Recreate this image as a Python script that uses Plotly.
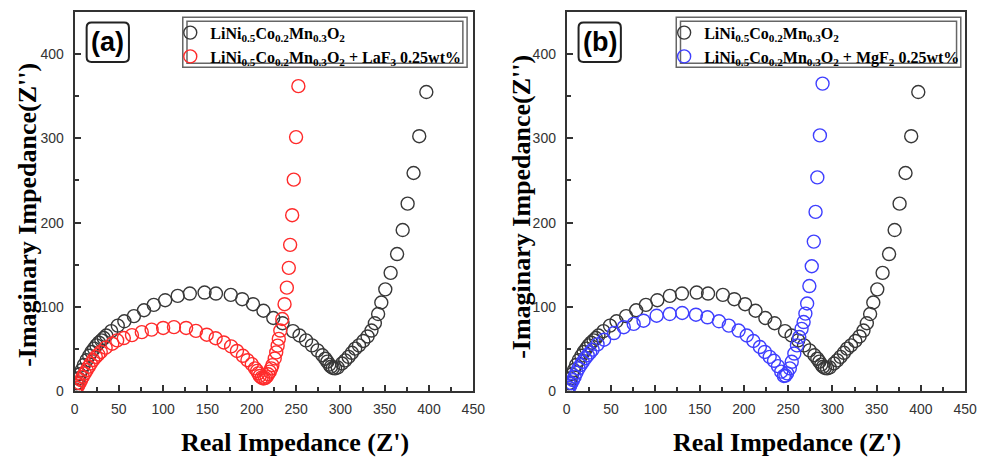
import plotly.graph_objects as go

# ---------------- data ----------------
pristine_x = [1, 2.6, 4.4, 6, 8.1, 10.5, 13.6, 16.5, 19.2, 22, 24.7, 27.5, 30.3, 33, 35.8, 41.4, 48.8,
              56.2, 67, 78.4, 89.4, 102.3, 116.4, 130.1, 146.7, 159.6, 176.3, 189.2, 201.4, 213.2,
              224.3, 234.7, 246.5, 253.9, 261.3, 268, 274.2, 279.7, 283, 285.3, 287.5, 289.5, 291.5,
              294, 297, 301.8, 305.5, 309.2, 313, 316.7, 321, 325.9, 330.7, 335.1, 338.9, 342.6,
              346.2, 350.7, 356.7, 364, 370.3, 375.9, 382.6, 389, 397]
pristine_y = [2, 9.4, 15.2, 20, 25, 31, 36.7, 42, 46.5, 50.5, 54.3, 57.5, 60.2, 63, 66, 71.2, 77.8,
              82.9, 89, 96, 102.4, 107.9, 113, 115.8, 117, 115.8, 114.2, 109.1, 103.2, 95.4,
              86.8, 80.6, 71.2, 66, 60.2, 54.3, 48.4, 42.6, 38.5, 35, 31.5, 29, 27.5,
              27, 28, 32.8, 36.5, 40.7, 45.5, 50.4, 54.3, 59.5, 64.9, 71.9, 80.6, 91.5,
              105.2, 120.8, 140.4, 162.7, 191.2, 222.5, 258.9, 302.6, 355]

laf3_x = [1, 2.5, 4, 5.6, 7.3, 9.2, 11.5, 13.7, 16, 18.4, 21, 24, 26.8, 29.6, 35.1, 42.6, 48.1,
          55.6, 64.8, 75.9, 87, 100, 112.2, 125.9, 137, 149.2, 159.2, 168.4, 176.7, 183.3, 190,
          195.1, 200, 203.7, 206, 207.4, 209, 211.1, 213, 215, 216.7, 218.5, 220.3, 222, 223.3,
          225.9, 227.6, 229.2, 230.5, 232.2, 234.4, 237, 239.6, 241.8, 243.3, 245.6, 247.4, 250,
          252.6]
laf3_y = [1.5, 4, 6.5, 9.4, 13, 17.2, 21, 25, 29, 32.8, 37, 40.7, 43.5, 46.5, 51.6, 56.3, 60.2,
          63, 66.5, 70, 73, 75, 76, 75, 71.5, 67, 62.8, 57.8, 53.1, 47.7, 41.9,
          36.7, 32, 27, 24, 21.1, 18, 16, 15, 15.5, 17.2, 20, 23.1, 27, 30.9,
          38.7, 46, 54, 62, 71.9, 85.6, 103.2, 122.8, 146.3, 173.6, 208.8, 251, 301.5,
          362]

mgf2_x = [1, 2.5, 3.8, 5.2, 7, 8.9, 11, 13.3, 15.7, 18.1, 21, 23.7, 26.5, 29.2, 34.8, 42.2, 53.3,
          64.4, 75.6, 86.7, 101.5, 116.3, 130.4, 145.9, 158.9, 171.9, 183, 194.1, 203.3, 210.8,
          218.1, 223.7, 229.2, 234.1, 238.5, 242.2, 245.2, 247, 248.9, 251.9, 254.1, 257, 260,
          262.6, 265.2, 267.5, 269.5, 271.5, 274, 276.7, 279, 281, 283, 285.9, 288.9]
mgf2_y = [1.5, 4, 6.5, 9.4, 13, 17.2, 22, 27, 31, 34.8, 39, 42.6, 46, 49.3, 55.5, 61, 68.9,
          75.9, 79.8, 83.6, 89.5, 91.5, 92.7, 90.7, 87.6, 82.9, 77.8, 71.9, 66, 59.5,
          52.4, 46.5, 40.7, 36, 29.7, 23.1, 18, 18.5, 21.1, 27, 34.8, 44.6, 54.3,
          64.2, 73.9, 82, 92, 104, 124.7, 148.2, 177.5, 212.7, 253.7, 303.5, 365]

name_pristine = "<b>LiNi<sub>0.5</sub>Co<sub>0.2</sub>Mn<sub>0.3</sub>O<sub>2</sub></b>"
name_laf3 = "<b>LiNi<sub>0.5</sub>Co<sub>0.2</sub>Mn<sub>0.3</sub>O<sub>2</sub> + LaF<sub>3</sub> 0.25wt%</b>"
name_mgf2 = "<b>LiNi<sub>0.5</sub>Co<sub>0.2</sub>Mn<sub>0.3</sub>O<sub>2</sub> + MgF<sub>2</sub> 0.25wt%</b>"
panel_labels = ["<b>(a)</b>", "<b>(b)</b>"]
x_title = "<b>Real Impedance (Z')</b>"
y_title = "<b>-Imaginary Impedance(Z'')</b>"

# ---------------- styling ----------------
W, H = 990, 463
BLACK = "#383838"
RED = "#ff2b2b"
BLUE = "#3f3fff"
AX = "#333333"

def px(xp):
    return xp / W

def py(yp):
    return 1 - yp / H

def mk(color):
    return dict(symbol="circle-open", size=13, color=color, line=dict(width=1.4, color=color))

fig = go.Figure()
fig.add_trace(go.Scatter(x=pristine_x, y=pristine_y, mode="markers", marker=mk(BLACK),
                         name=name_pristine, xaxis="x", yaxis="y", legend="legend"))
fig.add_trace(go.Scatter(x=laf3_x, y=laf3_y, mode="markers", marker=mk(RED),
                         name=name_laf3, xaxis="x", yaxis="y", legend="legend"))
fig.add_trace(go.Scatter(x=pristine_x, y=pristine_y, mode="markers", marker=mk(BLACK),
                         name=name_pristine, xaxis="x2", yaxis="y2", legend="legend2"))
fig.add_trace(go.Scatter(x=mgf2_x, y=mgf2_y, mode="markers", marker=mk(BLUE),
                         name=name_mgf2, xaxis="x2", yaxis="y2", legend="legend2"))

ydom = [py(398), py(12.2)]
tickfont = dict(family="Liberation Sans", size=14, color="#333")

def xax(dom, anchor):
    return dict(domain=dom, range=[0, 450], anchor=anchor, dtick=50, tick0=0,
                ticks="inside", ticklen=6, tickwidth=1.5, tickcolor=AX,
                minor=dict(dtick=25, ticks="inside", ticklen=4, tickwidth=1.5, tickcolor=AX),
                showline=True, mirror=True, linewidth=2, linecolor=AX,
                showgrid=False, zeroline=False, tickfont=tickfont, ticklabelstandoff=4)

def yax(anchor):
    return dict(domain=ydom, range=[0, 450], anchor=anchor, dtick=100, tick0=0,
                ticks="inside", ticklen=6, tickwidth=1.5, tickcolor=AX,
                minor=dict(dtick=50, ticks="inside", ticklen=4, tickwidth=1.5, tickcolor=AX),
                showline=True, mirror=True, linewidth=2, linecolor=AX,
                showgrid=False, zeroline=False, tickfont=tickfont, ticklabelstandoff=6)

def yover(over, anchor):
    return dict(overlaying=over, anchor=anchor, range=[0, 450], dtick=100, tick0=0,
                ticks="outside", ticklen=4, tickwidth=1.5, tickcolor=AX,
                showticklabels=False, showline=False, showgrid=False, zeroline=False)

legend_common = dict(xanchor="left", yanchor="top", bgcolor="rgba(0,0,0,0)", borderwidth=0,
                     font=dict(family="Liberation Serif", size=16, color="black"),
                     tracegroupgap=0, traceorder="normal")

fig.update_layout(
    width=W, height=H, margin=dict(l=0, r=0, t=0, b=0),
    paper_bgcolor="white", plot_bgcolor="white",
    xaxis=xax([px(71.7), px(477)], "y"),
    yaxis=yax("x"),
    xaxis2=xax([px(572), px(977)], "y2"),
    yaxis2=yax("x2"),
    yaxis3=yover("y", "x"),
    yaxis4=yover("y2", "x2"),
    legend=dict(x=px(169), y=py(16), **legend_common),
    legend2=dict(x=px(671), y=py(16), **legend_common),
    showlegend=True,
)

# legend double frames
for (x0, x1) in [(181.7, 470.7), (683.3, 972.5)]:
    fig.add_shape(type="rect", xref="paper", yref="paper", x0=px(x0), x1=px(x1),
                  y0=py(68.5), y1=py(17.5), line=dict(color="#666", width=1.5))
    fig.add_shape(type="rect", xref="paper", yref="paper", x0=px(x0 + 4.3), x1=px(x1 - 4.3),
                  y0=py(64.3), y1=py(21.7), line=dict(color="#666", width=1.5))

# rounded boxes around panel labels
def rounded_box(x0, y0, x1, y1, r=5):
    X0, X1 = px(x0), px(x1)
    Y0, Y1 = py(y0), py(y1)
    rx, ry = r / W, r / H
    return (f"M {X0+rx},{Y0} L {X1-rx},{Y0} Q {X1},{Y0} {X1},{Y0-ry} "
            f"L {X1},{Y1+ry} Q {X1},{Y1} {X1-rx},{Y1} L {X0+rx},{Y1} "
            f"Q {X0},{Y1} {X0},{Y1+ry} L {X0},{Y0-ry} Q {X0},{Y0} {X0+rx},{Y0} Z")

for lab, (bx0, bx1) in zip(panel_labels, [(84, 127), (584, 627)]):
    fig.add_shape(type="path", xref="paper", yref="paper", path=rounded_box(bx0, 23, bx1, 63),
                  line=dict(color="#222", width=2))
    fig.add_annotation(text=lab, xref="paper", yref="paper", x=px((bx0 + bx1) / 2), y=py(43),
                       showarrow=False, font=dict(family="Liberation Sans", size=27, color="black"),
                       xanchor="center", yanchor="middle")

for cx in [296, 796]:
    fig.add_annotation(text=x_title, xref="paper", yref="paper", x=px(cx), y=py(450),
                       showarrow=False, font=dict(family="Liberation Serif", size=26, color="black"),
                       xanchor="center", yanchor="middle")

for cx, cy in [(24, 219), (526, 210)]:
    fig.add_annotation(text=y_title, xref="paper", yref="paper", x=px(cx), y=py(cy),
                       showarrow=False, textangle=-90,
                       font=dict(family="Liberation Serif", size=26, color="black"),
                       xanchor="center", yanchor="middle")

fig.write_html("out.html")
